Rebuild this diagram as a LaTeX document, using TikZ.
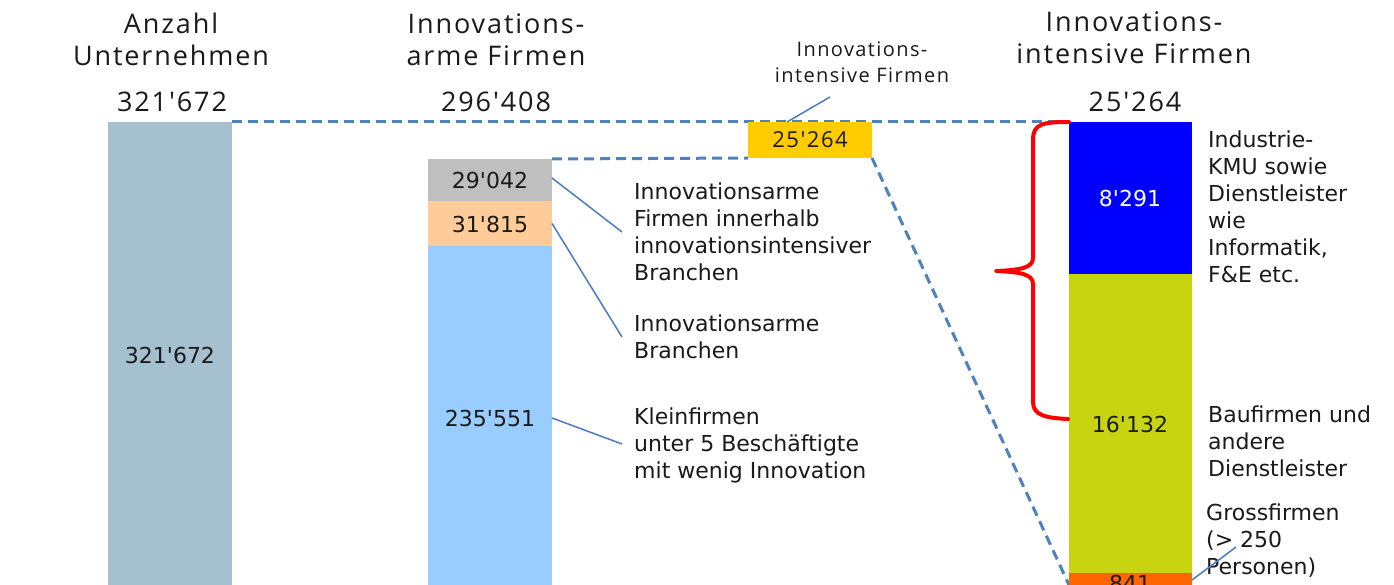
\documentclass[tikz,border=0pt]{standalone}
\usepackage{fontspec}
\setmainfont{DejaVu Sans}
\newfontfamily\bodyfont{DejaVu Sans}
\newfontfamily\titlefont[LetterSpace=7]{Open Sans}
\usetikzlibrary{backgrounds}
\definecolor{txt}{HTML}{1A1A1A}
\definecolor{cbarone}{HTML}{A5C1D0}
\definecolor{cgray}{HTML}{BFBFBF}
\definecolor{cpeach}{HTML}{FFCC99}
\definecolor{clb}{HTML}{99CCFF}
\definecolor{cyel}{HTML}{FFCC00}
\definecolor{cblue}{HTML}{0000FF}
\definecolor{clime}{HTML}{C9D411}
\definecolor{corange}{HTML}{FF6600}
\definecolor{dashc}{HTML}{4F81BD}
\definecolor{calc}{HTML}{4A7CC0}
\begin{document}
\begin{tikzpicture}[x=1pt,y=-1pt,
  bar/.style={draw=none, inner sep=0pt, outer sep=0pt, anchor=north west, minimum width=124pt},
  body/.style={font=\bodyfont\fontsize{22}{27}\selectfont, text=txt, inner sep=0pt, align=left, anchor=north west},
  val/.style={font=\bodyfont\fontsize{22}{27}\selectfont, text=txt, inner sep=0pt},
  title/.style={font=\titlefont\fontsize{27}{32}\selectfont, text=txt, align=center, inner sep=0pt},
  smalltitle/.style={font=\titlefont\fontsize{20}{26}\selectfont, text=txt, align=center, inner sep=0pt},
  dashline/.style={draw=dashc, line width=3pt, dash pattern=on 10pt off 6pt},
  callout/.style={draw=calc, line width=1.5pt},
  brace/.style={draw=red, line width=4pt, line cap=round, line join=round}]
\useasboundingbox (0,0) rectangle (1394,585);
\clip (0,0) rectangle (1394,585);

% titles
\node[title, anchor=north] (t1) at (171,13) {Anzahl\\Unternehmen};
\node[title, anchor=north] (t2) at (496,13) {Innovations-\\arme Firmen};
\node[title, anchor=north] (t3) at (1134,11) {Innovations-\\intensive Firmen};
\node[title, anchor=base] (n1) at (172,112) {321'672};
\node[title, anchor=base] (n2) at (496,112) {296'408};
\node[title, anchor=base] (n3) at (1135,112) {25'264};
\node[smalltitle, anchor=north] (st) at (862,42) {Innovations-\\intensive Firmen};

% bars
\node[bar, fill=cbarone, minimum height=480pt] (b1) at (108,122) {};
\node[bar, fill=cgray, minimum height=42pt] (gray) at (428,159) {};
\node[bar, fill=cpeach, minimum height=45pt] (peach) at (428,201) {};
\node[bar, fill=clb, minimum height=360pt] (lb) at (428,246) {};
\node[bar, fill=cyel, minimum height=36pt] (yel) at (748,122) {};
\node[bar, fill=cblue, minimum width=123pt, minimum height=152pt] (blue) at (1069,122) {};
\node[bar, fill=clime, minimum width=123pt, minimum height=299pt] (lime) at (1069,274) {};
\node[bar, fill=corange, minimum width=123pt, minimum height=40pt] (orange) at (1069,573) {};

% values
\node[val] (v1) at (170,355) {321'672};
\node[val] (v2) at (490,180) {29'042};
\node[val] (v3) at (490,224) {31'815};
\node[val] (v4) at (490,418) {235'551};
\node[font=\titlefont\fontsize{22}{27}\selectfont, text=txt, inner sep=0pt] (v5) at (810,140) {25'264};
\node[val, text=white] (v6) at (1130,198) {8'291};
\node[val] (v7) at (1130,424) {16'132};
\node[val] (v8) at (1130,583) {841};

% descriptions
\node[body] (dA) at (634,183) {Innovationsarme\\Firmen innerhalb\\innovationsintensiver\\Branchen};
\node[body] (dB) at (634,315) {Innovationsarme\\Branchen};
\node[body] (dC) at (634,408) {Kleinfirmen\\unter 5 Beschäftigte\\mit wenig Innovation};
\node[body] (dD) at (1208,131) {Industrie-\\KMU sowie\\Dienstleister\\wie\\Informatik,\\F\&E etc.};
\node[body] (dE) at (1208,406) {Baufirmen und\\andere\\Dienstleister};
\node[body] (dF) at (1206,504) {Grossfirmen\\(> 250\\Personen)};

\coordinate (cA) at (622,232);
\coordinate (cB) at (622,337);
\coordinate (cC) at (622,444);
\coordinate (cY) at (830,97);
\coordinate (cO) at (1236,547);
\coordinate (cD) at (1075,598);

\begin{scope}[on background layer]
\clip (0,0) rectangle (1394,585);
\fill[white] (0,0) rectangle (1394,585);
\draw[dashline] (b1.north east) -- (blue.north west);
\draw[dashline] (gray.north east) -- (yel.south west);
\draw[dashline] (yel.south east) -- (cD);
\end{scope}

% callouts
\draw[callout] ([yshift=2pt]gray.east) -- (cA);
\draw[callout] (peach.east) -- (cB);
\draw[callout] (lb.east |- v4) -- (cC);
\draw[callout] ([xshift=-23pt]yel.north) -- (cY);
\draw[callout] ([yshift=-7pt]orange.north east) -- (cO);

% brace
\draw[brace] (blue.north west) .. controls (1042,122) and (1033,124) .. (1033,140)
  -- (1033,258) .. controls (1033,268) and (1020,270) .. (996,271)
  .. controls (1020,272) and (1033,274) .. (1033,284)
  -- (1033,402) .. controls (1033,415) and (1045,418) .. (1068,419);
\end{tikzpicture}
\end{document}
